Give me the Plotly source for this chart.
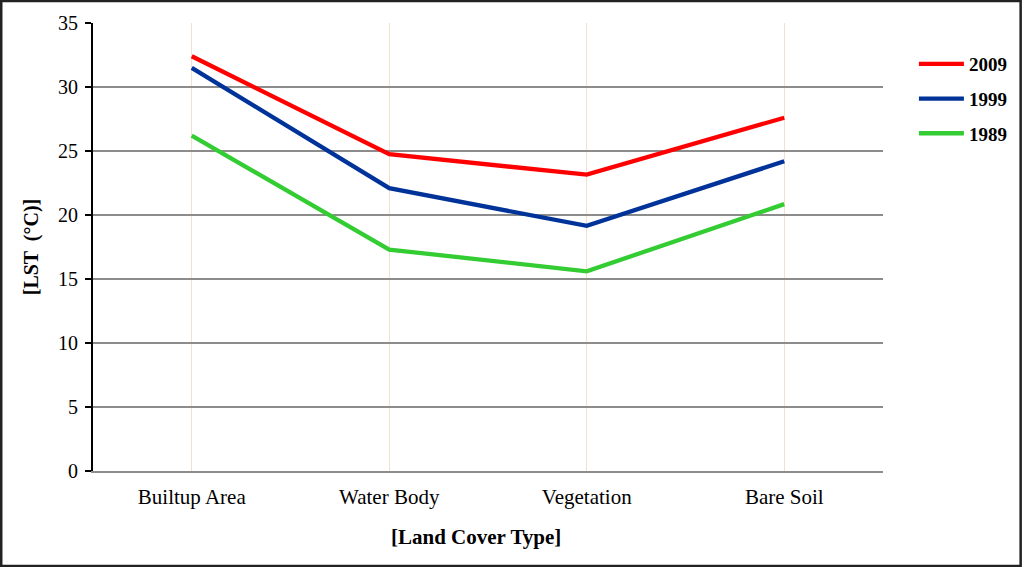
import plotly.graph_objects as go

# land cover classes along the x axis
land_cover = ["Builtup Area", "Water Body", "Vegetation", "Bare Soil"]

# mean LST (deg C) per class
lst_2009 = [32.4, 24.75, 23.15, 27.6]
lst_1999 = [31.5, 22.1, 19.15, 24.2]
lst_1989 = [26.2, 17.3, 15.6, 20.85]

years = ["2009", "1999", "1989"]
colors = ["#ff0000", "#003399", "#33cc33"]

# figure geometry (pixels)
W, H = 1024, 567
ml, mr, mt, mb = 93, 139, 23, 96
pw, ph = W - ml - mr, H - mt - mb

fig = go.Figure()
for i, (yr, vals) in enumerate(zip(years, [lst_2009, lst_1999, lst_1989])):
    fig.add_trace(go.Scatter(
        x=land_cover, y=vals, name=yr, mode="lines",
        line=dict(color=colors[i], width=4.3),
        legendgroup=yr,
    ))

fig.update_layout(
    width=W, height=H,
    margin=dict(l=ml, r=mr, t=mt, b=mb),
    plot_bgcolor="white", paper_bgcolor="white",
    font=dict(family="Liberation Serif, Times New Roman, serif", size=20, color="black"),
    showlegend=True,
    legend=dict(
        x=(916 - ml) / pw, y=(mt + ph - 45) / ph, xanchor="left", yanchor="top",
        font=dict(size=19, color="black", family="Liberation Serif, serif", weight="bold"),
        tracegroupgap=7, itemwidth=45, bgcolor="rgba(0,0,0,0)",
    ),
)

fig.update_xaxes(
    range=[-0.5, 3.5],
    showgrid=True, gridcolor="#f3dfcc", gridwidth=1,
    showline=True, linecolor="#8c8c8c", linewidth=1.5,
    ticks="", tickfont=dict(size=21), ticklabelstandoff=6,
    zeroline=False,
)
fig.update_yaxes(
    range=[0, 35], dtick=5,
    showgrid=True, gridcolor="#8c8c8c", gridwidth=1.5,
    showline=True, linecolor="black", linewidth=2,
    ticks="outside", ticklen=6, tickwidth=1.5, tickcolor="black",
    tickfont=dict(size=20), ticklabelstandoff=3,
    zeroline=False,
    title=dict(text="[LST  (°C)]", font=dict(size=20, weight="bold"), standoff=14),
)

# x axis title
fig.add_annotation(
    text="<b>[Land Cover Type]</b>", xref="paper", yref="paper",
    x=(477 - ml) / pw, y=(mt + ph - 537) / ph, showarrow=False,
    font=dict(size=21), xanchor="center", yanchor="middle",
)

# outer frame around the whole picture
fig.add_shape(
    type="rect", xref="paper", yref="paper",
    x0=(1 - ml) / pw, x1=(W - 1 - ml) / pw,
    y0=(mt + ph - (H - 1)) / ph, y1=(mt + ph - 1) / ph,
    line=dict(color="#222222", width=2.5), layer="above",
)

fig.write_html("out.html", config={"displayModeBar": False},
               post_script="document.body.style.margin='0';document.body.style.overflow='hidden';")
